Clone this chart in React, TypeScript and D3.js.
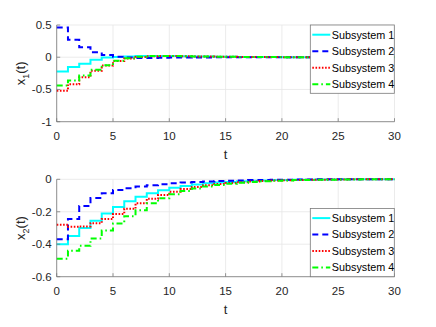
import React from "react";
import * as d3 from "d3";

const tValues = d3.range(0, 31);
const xTicks = [0, 5, 10, 15, 20, 25, 30];
const yTicksTop = [-1, -0.5, 0, 0.5];
const yTicksBottom = [-0.6, -0.4, -0.2, 0];
const seriesNames = ["Subsystem 1", "Subsystem 2", "Subsystem 3", "Subsystem 4"];
const seriesColors = ["#00ffff", "#0000ff", "#ff0000", "#00ff00"];
const seriesDash = ["none", "6,4", "1.6,1.6", "6,3,1.6,3"];

const s1x1 = [-0.22, -0.15, -0.1, -0.04, -0.005, 0.005, 0.012, 0.018, 0.02, 0.02, 0.018, 0.015, 0.012, 0.01, 0.008, 0.006, 0.005, 0.004, 0.003, 0.002, 0.001, 0.001, 0, 0, 0, 0, 0, 0, 0, 0, 0];
const s2x1 = [0.46, 0.27, 0.155, 0.076, 0.034, 0.008, -0.005, -0.01, -0.01, -0.008, -0.006, -0.005, -0.004, -0.003, -0.002, -0.002, -0.001, -0.001, 0, 0, 0, 0, 0, 0, 0, 0, 0, 0, 0, 0, 0];
const s3x1 = [-0.52, -0.42, -0.31, -0.21, -0.13, -0.06, -0.02, 0.005, 0.016, 0.02, 0.018, 0.015, 0.012, 0.01, 0.008, 0.006, 0.005, 0.004, 0.003, 0.002, 0.001, 0.001, 0, 0, 0, 0, 0, 0, 0, 0, 0];
const s4x1 = [-0.44, -0.36, -0.285, -0.195, -0.125, -0.055, -0.015, 0.008, 0.018, 0.02, 0.018, 0.015, 0.012, 0.01, 0.008, 0.006, 0.005, 0.004, 0.003, 0.002, 0.001, 0.001, 0, 0, 0, 0, 0, 0, 0, 0, 0];

const s1x2 = [-0.4, -0.35, -0.3, -0.255, -0.21, -0.17, -0.135, -0.107, -0.086, -0.067, -0.052, -0.041, -0.032, -0.025, -0.02, -0.016, -0.012, -0.009, -0.007, -0.005, -0.004, -0.003, -0.002, -0.001, -0.001, 0, 0, 0, 0, 0, 0];
const s2x2 = [-0.37, -0.245, -0.165, -0.115, -0.086, -0.066, -0.055, -0.045, -0.036, -0.03, -0.025, -0.02, -0.017, -0.014, -0.011, -0.009, -0.007, -0.005, -0.004, -0.003, -0.002, -0.001, -0.001, 0, 0, 0, 0, 0, 0, 0, 0];
const s3x2 = [-0.28, -0.293, -0.29, -0.27, -0.245, -0.214, -0.182, -0.148, -0.12, -0.097, -0.076, -0.06, -0.047, -0.037, -0.029, -0.023, -0.018, -0.014, -0.011, -0.008, -0.006, -0.004, -0.003, -0.002, -0.001, -0.001, 0, 0, 0, 0, 0];
const s4x2 = [-0.49, -0.44, -0.41, -0.364, -0.315, -0.272, -0.228, -0.19, -0.148, -0.117, -0.092, -0.072, -0.056, -0.044, -0.035, -0.027, -0.021, -0.016, -0.012, -0.009, -0.007, -0.005, -0.004, -0.003, -0.002, -0.001, -0.001, 0, 0, 0, 0];

const FONT = "'Liberation Sans', Arial, Helvetica, sans-serif";

type PanelProps = {
  top: number;
  bottom: number;
  yDomain: [number, number];
  yTicks: number[];
  series: number[][];
  sub: string;
  legendTop: number;
};

function Panel({ top, bottom, yDomain, yTicks, series, sub, legendTop }: PanelProps) {
  const left = 56.7;
  const right = 394.5;
  const x = d3.scaleLinear().domain([0, 30]).range([left, right]);
  const y = d3.scaleLinear().domain(yDomain).range([bottom, top]);
  const line = d3
    .line<number>()
    .x((_, i) => x(tValues[i]))
    .y((d) => y(d))
    .curve(d3.curveStepAfter);
  const fmt = (v: number) => (v === 0 ? "0" : String(v));
  const legLeft = 310.3;
  const legRight = 394.3;
  const legH = 68.3;
  return (
    <g>
      {/* grid */}
      {xTicks.map((t) => (
        <line key={"gx" + t} x1={x(t)} x2={x(t)} y1={top} y2={bottom} stroke="#e6e6e6" strokeWidth={0.8} />
      ))}
      {yTicks.map((t) => (
        <line key={"gy" + t} x1={left} x2={right} y1={y(t)} y2={y(t)} stroke="#e6e6e6" strokeWidth={0.8} />
      ))}
      {/* data */}
      <g>
        {series.map((s, i) => (
          <path
            key={"s" + i}
            d={line(s) || ""}
            fill="none"
            stroke={seriesColors[i]}
            strokeWidth={i === 0 ? 2 : 2}
            strokeDasharray={seriesDash[i]}
          />
        ))}
      </g>
      {/* axes */}
      <line x1={left} x2={right} y1={bottom} y2={bottom} stroke="#7a7a7a" strokeWidth={0.8} />
      <line x1={left} x2={left} y1={top} y2={bottom} stroke="#7a7a7a" strokeWidth={0.8} />
      {xTicks.map((t) => (
        <g key={"xt" + t}>
          <line x1={x(t)} x2={x(t)} y1={bottom} y2={bottom - 3.5} stroke="#7a7a7a" strokeWidth={0.8} />
          <text x={x(t)} y={bottom + 18.5} textAnchor="middle" fontSize={11.5} fontFamily={FONT} fill="#262626">
            {t}
          </text>
        </g>
      ))}
      {yTicks.map((t) => (
        <g key={"yt" + t}>
          <line x1={left} x2={left + 3.5} y1={y(t)} y2={y(t)} stroke="#7a7a7a" strokeWidth={0.8} />
          <text x={left - 5} y={y(t) + 4} textAnchor="end" fontSize={11.5} fontFamily={FONT} fill="#262626">
            {fmt(t)}
          </text>
        </g>
      ))}
      {/* axis labels */}
      <text x={(left + right) / 2} y={bottom + 37.5} textAnchor="middle" fontSize={13} fontFamily={FONT} fill="#262626">
        t
      </text>
      <text
        transform={`translate(25,${(top + bottom) / 2}) rotate(-90)`}
        textAnchor="middle"
        fontSize={13}
        fontFamily={FONT}
        fill="#262626"
      >
        x<tspan fontSize={9} dy={3.5}>{sub}</tspan>
        <tspan dy={-3.5}>(t)</tspan>
      </text>
      {/* legend */}
      <rect x={legLeft} y={legendTop} width={legRight - legLeft} height={legH} fill="#ffffff" stroke="#7a7a7a" strokeWidth={0.8} />
      {seriesNames.map((n, i) => {
        const cy = legendTop + 9.7 + i * 16.5;
        return (
          <g key={"lg" + i}>
            <line
              x1={legLeft + 2}
              x2={legLeft + 20}
              y1={cy}
              y2={cy}
              stroke={seriesColors[i]}
              strokeWidth={2}
              strokeDasharray={seriesDash[i]}
            />
            <text x={legLeft + 21.5} y={cy + 3.8} fontSize={10.8} fontFamily={FONT} fill="#000000">
              {n}
            </text>
          </g>
        );
      })}
    </g>
  );
}

export default function App() {
  return (
    <svg
      width={436}
      height={327}
      style={{ position: "absolute", left: 0, top: 0, background: "#ffffff" }}
    >
      <rect x={0} y={0} width={436} height={327} fill="#ffffff" />
      <Panel
        top={25}
        bottom={121.7}
        yDomain={[-1, 0.5]}
        yTicks={yTicksTop}
        series={[s1x1, s2x1, s3x1, s4x1]}
        sub="1"
        legendTop={25}
      />
      <Panel
        top={179.3}
        bottom={276.7}
        yDomain={[-0.6, 0]}
        yTicks={yTicksBottom}
        series={[s1x2, s2x2, s3x2, s4x2]}
        sub="2"
        legendTop={208.4}
      />
    </svg>
  );
}
